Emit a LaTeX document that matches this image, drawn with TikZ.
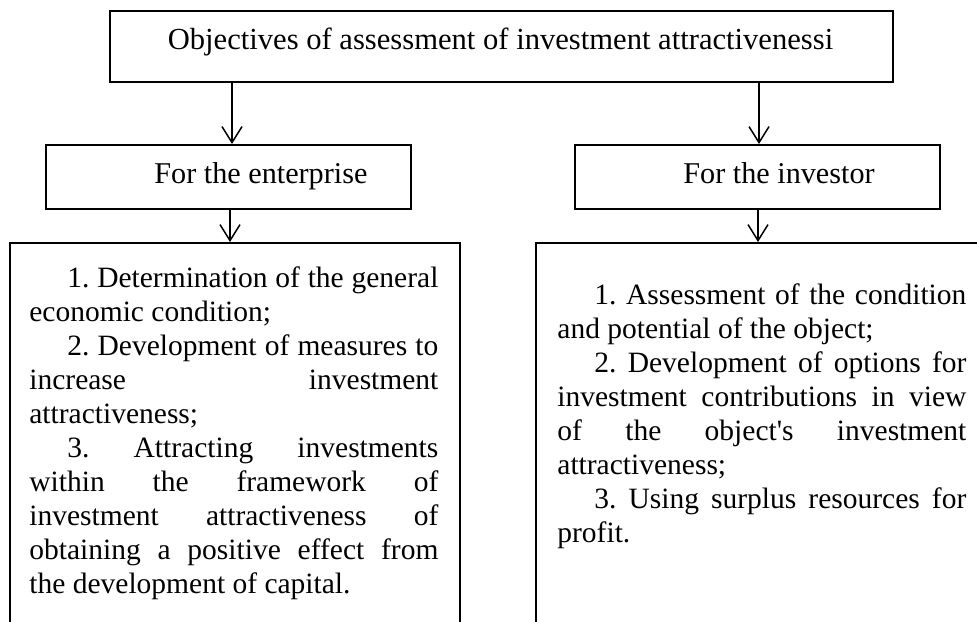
\documentclass[tikz,border=0pt]{standalone}
\usepackage{fontspec}
\setmainfont{Liberation Serif}
\usetikzlibrary{arrows.meta}
% one justified line of a list, stretched to the full text width
\newcommand\jl[1]{\hbox to\hsize{#1}}
\begin{document}
\begin{tikzpicture}[x=0.5pt,y=-0.5pt,
  box/.style={draw, line width=1pt, inner sep=0pt, anchor=north west},
  link/.style={line width=0.75pt, -{Straight Barb[length=8pt,width=10pt,line width=0.75pt]}},
  txt/.style={font=\fontsize{14.75pt}{17pt}\selectfont\frenchspacing, inner sep=0pt},
  head/.style={font=\fontsize{15.1pt}{17pt}\selectfont, inner sep=0pt}]
\useasboundingbox (0,0) rectangle (977,621);

% heading
\node[box, minimum width=391.5pt, minimum height=35.5pt] (goal) at (109,10) {};
\node[head, font=\fontsize{15.3pt}{17pt}\selectfont, anchor=base] (goaltxt) at (500.5,49) {Objectives of assessment of investment attractivenessi};

% the two parties
\node[box, minimum width=182.5pt, minimum height=32pt] (ent) at (45,144) {};
\node[head, anchor=base west] (enttxt) at (154,183) {For the enterprise};
\node[box, minimum width=182.5pt, minimum height=32pt] (inv) at (574,144) {};
\node[head, anchor=base west] (invtxt) at (683,183) {For the investor};

% open-ended list boxes
\node[box, minimum width=225pt, minimum height=200pt] (entlist) at (9,242) {};
\node[box, minimum width=232pt, minimum height=200pt] (invlist) at (535,242) {};

\node[txt, anchor=base west] (entitems) at (29,287) {\vtop{\hsize=204.5pt
  \baselineskip=17pt \lineskiplimit=-100pt
  \jl{\hskip19pt 1. Determination of the general}
  \hbox{economic condition;}
  \jl{\hskip19pt 2. Development of measures to}
  \jl{increase investment}
  \hbox{attractiveness;}
  \jl{\hskip19pt 3. Attracting investments}
  \jl{within the framework of}
  \jl{investment attractiveness of}
  \jl{obtaining a positive effect from}
  \hbox{the development of capital.}}};

\node[txt, anchor=base west] (invitems) at (557,304) {\vtop{\hsize=204.5pt
  \baselineskip=17pt \lineskiplimit=-100pt
  \jl{\hskip18.5pt 1. Assessment of the condition}
  \hbox{and potential of the object;}
  \jl{\hskip18.5pt 2. Development of options for}
  \jl{investment contributions in view}
  \jl{of the object\textquotesingle s investment}
  \hbox{attractiveness;}
  \jl{\hskip18.5pt 3. Using surplus resources for}
  \hbox{profit.}}};

% connectors
\draw[link] (232,0 |- goal.south) -- (232,0 |- ent.north);
\draw[link] (759,0 |- goal.south) -- (759,0 |- inv.north);
\draw[link] (230,0 |- ent.south) -- (230,0 |- entlist.north);
\draw[link] (758,0 |- inv.south) -- (758,0 |- invlist.north);
\end{tikzpicture}
\end{document}
